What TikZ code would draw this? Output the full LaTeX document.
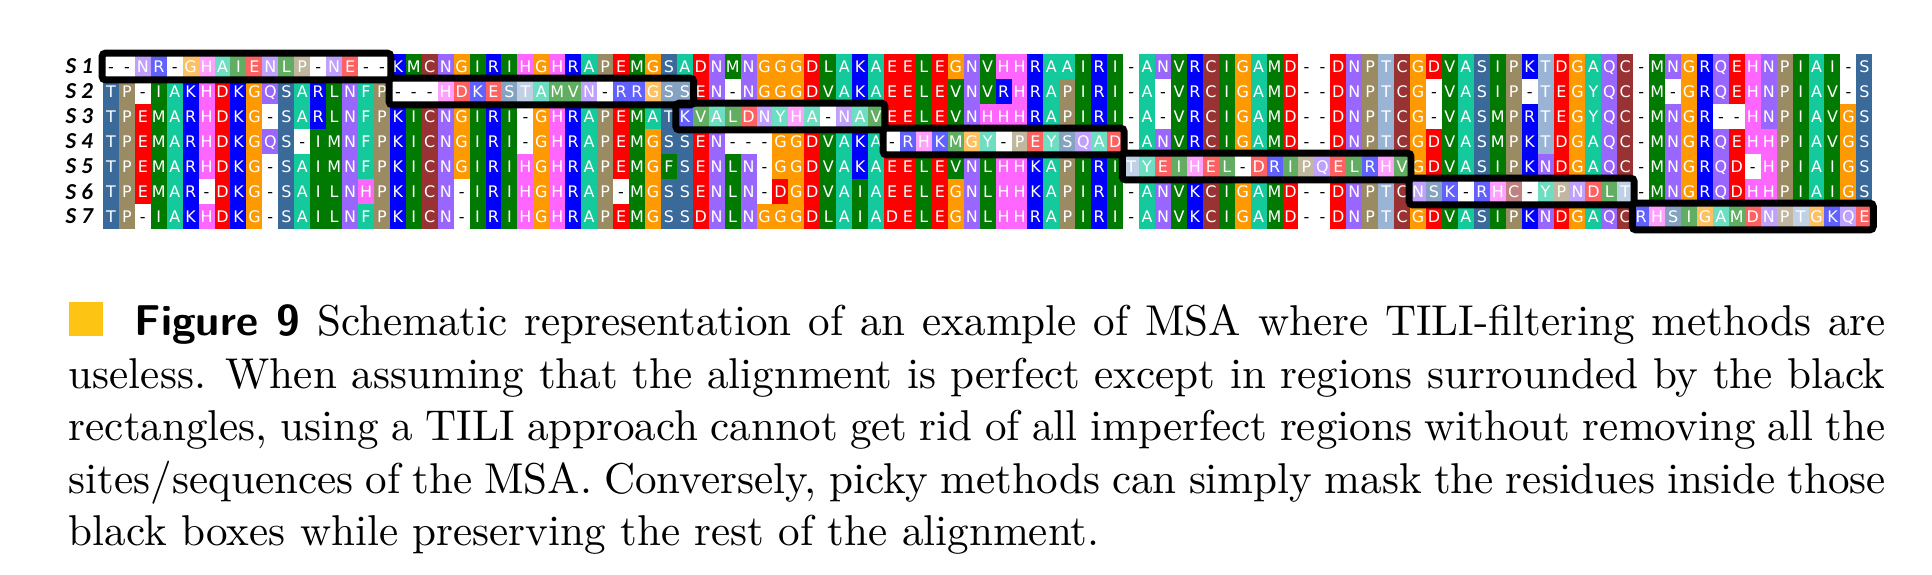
\documentclass[tikz,border=0pt]{standalone}
\usepackage{fontspec}
\usepackage{xcolor}
\usepackage{tikz}
\usetikzlibrary{positioning}

\newfontfamily\resfont{DejaVu Sans}
\newfontfamily\labfont{Carlito}

\definecolor{lipicsyellow}{HTML}{FDC414}
\definecolor{resA}{HTML}{14C99B}
\definecolor{resY}{HTML}{14C99B}
\definecolor{resR}{HTML}{0000FF}
\definecolor{resK}{HTML}{0000FF}
\definecolor{resN}{HTML}{9966FF}
\definecolor{resQ}{HTML}{9966FF}
\definecolor{resD}{HTML}{FF0000}
\definecolor{resE}{HTML}{FF0000}
\definecolor{resC}{HTML}{993333}
\definecolor{resG}{HTML}{FF9900}
\definecolor{resH}{HTML}{FF66FF}
\definecolor{resI}{HTML}{007A00}
\definecolor{resL}{HTML}{007A00}
\definecolor{resM}{HTML}{007A00}
\definecolor{resV}{HTML}{007A00}
\definecolor{resF}{HTML}{007A00}
\definecolor{resP}{HTML}{9B8B63}
\definecolor{resS}{HTML}{3A6A9A}
\definecolor{resT}{HTML}{9AB4D6}

\tikzset{
  cell/.style={inner sep=0pt, minimum width=3.72pt, minimum height=5.82pt,
    text height=2.75pt, text depth=0pt, font=\resfont\fontsize{3.7}{4}\selectfont},
  seqlabel/.style={inner sep=0pt, font=\labfont\bfseries\itshape\fontsize{5.3}{6}\selectfont},
  badbox/.style={draw=black, line width=1.62pt, rounded corners=0.8pt},
  caption/.style={inner sep=0pt, text width=421.5pt, align=justify,
    font=\fontsize{10}{12.18}\selectfont}
}

\makeatletter
\def\msagap{-}
\def\msaT{T}
\def\msaF{F}
% one row of the alignment: row, first and last boxed column, residues
\newcommand\msarow[4]{%
  \def\msacol{0}%
  \@tfor\msares:=#4\do{%
    \pgfmathtruncatemacro\msacol{\msacol+1}%
    \edef\msafill{res\msares}\def\msatext{white}%
    \ifx\msares\msagap\def\msafill{white}\def\msatext{black}\fi
    \ifx\msares\msaT\ifnum\msacol=1 \def\msafill{resS}\fi\ifnum\msacol=36 \def\msafill{resS}\fi\fi
    \ifx\msares\msaF\ifnum\msacol=17 \def\msafill{resA}\fi\fi
    \def\msatint{100}%
    \ifnum\msacol<#2 \else\ifnum\msacol>#3 \else\def\msatint{62}\fi\fi
    \node[cell, fill=\msafill!\msatint!white, text=\msatext] (c-#1-\msacol)
      at ({95.03+15.94*\msacol},{41.5+25*#1}) {\msares};
  }%
  \node[seqlabel, left=1.9pt of c-#1-1] (s#1) {S #1};
}
\makeatother

\begin{document}
\begin{tikzpicture}[x=0.232pt, y=-0.232pt]
\useasboundingbox (0,0) rectangle (1932,574);

\msarow{1}{1}{18}{--NR-GHAIENLP-NE--KMCNGIRIHGHRAPEMGSADNMNGGGDLAKAEELEGNVHHRAAIRI-ANVRCIGAMD--DNPTCGDVASIPKTDGAQC-MNGRQEHNPIAI-S}
\msarow{2}{19}{37}{TP-IAKHDKGQSARLNFP---HDKESTAMVN-RRGSSEN-NGGGDVAKAEELEVNVRHRAPIRI-A-VRCIGAMD--DNPTCG-VASIP-TEGYQC-M-GRQEHNPIAV-S}
\msarow{3}{37}{49}{TPEMARHDKG-SARLNFPKICNGIRI-GHRAPEMATKVALDNYHA-NAVEELEVNHHHRAPIRI-A-VRCIGAMD--DNPTCG-VASMPRTEGYQC-MNGR--HNPIAVGS}
\msarow{4}{50}{64}{TPEMARHDKGQS-IMNFPKICNGIRI-GHRAPEMGSSEN---GGDVAKA-RHKMGY-PEYSQAD-ANVRCIGAMD--DNPTCGDVASMPKTDGAQC-MNGRQEHHPIAVGS}
\msarow{5}{65}{82}{TPEMARHDKG-SAIMNFPKICNGIRIHGHRAPEMGFSENLN-GGDVAKAEELEVNLHHKAPIRITYEIHEL-DRIPQELRHVGDVASIPKNDGAQC-MNGRQD-HPIAIGS}
\msarow{6}{83}{96}{TPEMAR-DKG-SAILNHPKICN-IRIHGHRAP-MGSSENLN-DGDVAIAEELEGNLHHKAPIRI-ANVKCIGAMD--DNPTCNSK-RHC-YPNDLT-MNGRQDHHPIAIGS}
\msarow{7}{97}{111}{TP-IAKHDKG-SAILNFPKICN-IRIHGHRAPEMGSSDNLNGGGDLAIADELEGNLHHRAPIRI-ANVKCIGAMD--DNPTCGDVASIPKNDGAQCRHSIGAMDNPTGKQE}

\draw[badbox] (c-1-1.north west) rectangle (c-1-18.south east);
\draw[badbox] (c-2-19.north west) rectangle (c-2-37.south east);
\draw[badbox] (c-3-37.north west) rectangle (c-3-49.south east);
\draw[badbox] (c-4-50.north west) rectangle (c-4-64.south east);
\draw[badbox] (c-5-65.north west) rectangle (c-5-82.south east);
\draw[badbox] (c-6-83.north west) rectangle (c-6-96.south east);
\draw[badbox] (c-7-97.north west) rectangle (c-7-111.south east);

\node[caption, anchor=north west] (cap) at (68,301) {\noindent{\color{lipicsyellow}\rule{7.9pt}{7.9pt}}\hspace{7.4pt}{\sffamily\bfseries Figure 9} Schematic representation of an example of MSA where TILI-filtering methods are\linebreak useless. When assuming that the alignment is perfect except in regions surrounded by the black\linebreak rectangles, using a TILI approach cannot get rid of all imperfect regions without removing all the\linebreak sites/sequences of the MSA. Conversely, picky methods can simply mask the residues inside those\linebreak black boxes while preserving the rest of the alignment.};
\end{tikzpicture}
\end{document}
